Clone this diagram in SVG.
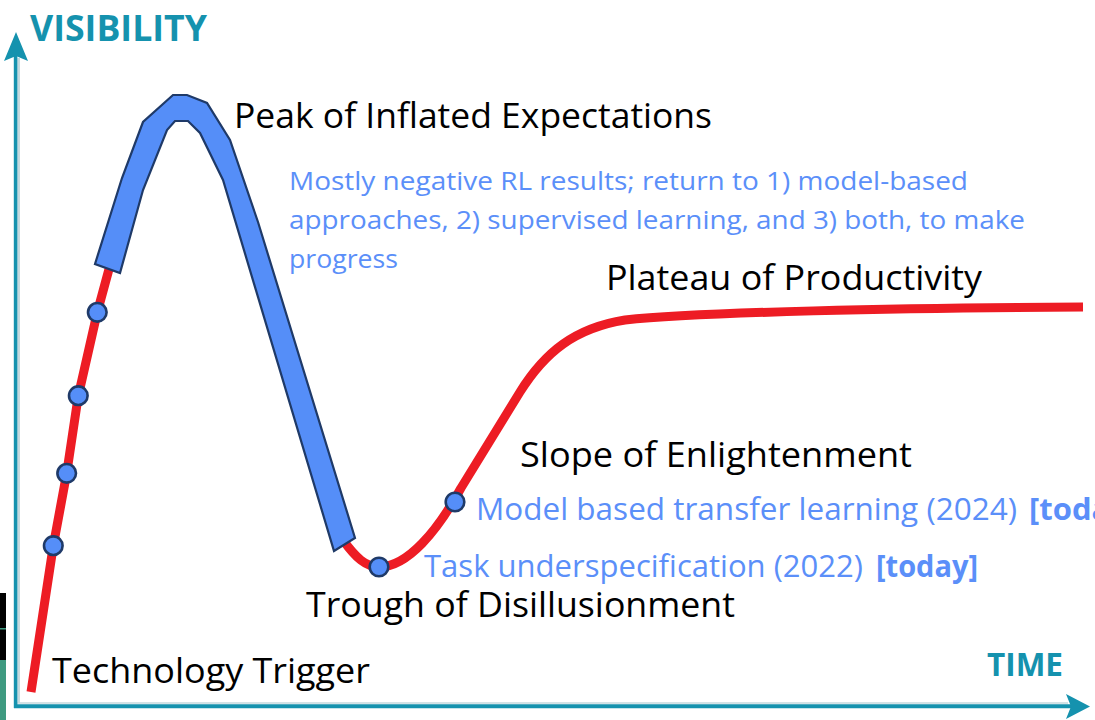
<svg xmlns="http://www.w3.org/2000/svg" width="1095" height="720" viewBox="0 0 1095 720">
  <style>
    .axis { stroke: #1592ae; fill: none; }
    .axis-edge { stroke: #c3d8de; fill: none; }
    .axis-head { fill: #1592ae; }
    .axis-label { font-family: "Open Sans", "Liberation Sans", sans-serif; font-weight: bold; fill: #1592ae; }
    .curve { stroke: #ed1c24; stroke-width: 9; fill: none; stroke-linejoin: round; }
    .band { fill: #558ef8; stroke: #1f3a68; stroke-width: 2.2; stroke-linejoin: miter; }
    .dot { fill: #558ef8; stroke: #1f3a68; stroke-width: 2.6; }
    .phase { font-family: "Open Sans", "Liberation Sans", sans-serif; font-size: 35px; fill: #000; }
    .note { font-family: "Open Sans", "Liberation Sans", sans-serif; fill: #5b8ff9; }
  </style>

  <rect width="1095" height="720" fill="#ffffff"/>

  <!-- strip at the left edge -->
  <rect x="0" y="593" width="6" height="67" fill="#000"/>
  <rect x="0" y="628" width="6" height="1.5" fill="#3e9a80"/>
  <rect x="0" y="660" width="6" height="60" fill="#3e9a80"/>

  <!-- axes -->
  <g id="axes">
    <line class="axis-edge" x1="18.7" y1="58" x2="18.7" y2="703" stroke-width="2.5"/>
    <line class="axis-edge" x1="17" y1="703" x2="1068" y2="703" stroke-width="1.5"/>
    <line class="axis" x1="15.6" y1="56" x2="15.6" y2="708" stroke-width="3.6"/>
    <line class="axis" x1="14" y1="706.2" x2="1072" y2="706.2" stroke-width="4"/>
    <polygon class="axis-head" points="16,32 28,61 16,56 4,61"/>
    <polygon class="axis-head" points="1090,706.5 1066,694 1071,706.5 1066,719"/>
    <text class="axis-label" x="30" y="40.5" font-size="35" textLength="177" lengthAdjust="spacingAndGlyphs">VISIBILITY</text>
    <text class="axis-label" x="987" y="676" font-size="32" textLength="76" lengthAdjust="spacingAndGlyphs">TIME</text>
  </g>

  <!-- hype curve -->
  <g id="connectors">
    <path class="curve" d="M31,692 L53.3,545.7 L66.7,473.3 L78.3,395.7 L97.3,312.3 L112,258"/>
    <path class="curve" d="M343,540 C356,558 366,567 379,567 C408,567 438,530 461,488 L520,392 C545,352 575,328 625,320 C700,312 900,308 1083,307"/>
  </g>

  <!-- peak band -->
  <g id="peak-band">
    <polygon class="band" points="95,264 122,178 143,122 173,95 187,95 207,103 230,140 258,222 355,538 334,551 223,180 200,133 188,121 175,121 167,130 143,190 120,273"/>
  </g>

  <!-- markers along the curve -->
  <g id="markers">
    <circle class="dot" cx="53.3" cy="545.7" r="9.3"/>
    <circle class="dot" cx="66.7" cy="473.3" r="9.3"/>
    <circle class="dot" cx="78.3" cy="395.7" r="9.3"/>
    <circle class="dot" cx="97.3" cy="312.3" r="9.3"/>
    <circle class="dot" cx="379" cy="567" r="9.3"/>
    <circle class="dot" cx="455" cy="502" r="9.3"/>
  </g>

  <!-- phase labels -->
  <g id="phase-peak">
    <text class="phase" x="234" y="128" textLength="478" lengthAdjust="spacingAndGlyphs">Peak of Inflated Expectations</text>
  </g>
  <g id="phase-plateau">
    <text class="phase" x="606" y="290" textLength="376" lengthAdjust="spacingAndGlyphs">Plateau of Productivity</text>
  </g>
  <g id="phase-slope">
    <text class="phase" x="520" y="467" textLength="392" lengthAdjust="spacingAndGlyphs">Slope of Enlightenment</text>
  </g>
  <g id="phase-trough">
    <text class="phase" x="306" y="617" textLength="429" lengthAdjust="spacingAndGlyphs">Trough of Disillusionment</text>
  </g>
  <g id="phase-trigger">
    <text class="phase" x="52" y="683" textLength="318" lengthAdjust="spacingAndGlyphs">Technology Trigger</text>
  </g>

  <!-- annotations -->
  <g id="note-peak" class="note" font-size="26">
    <text x="289" y="190" textLength="679" lengthAdjust="spacingAndGlyphs">Mostly negative RL results; return to 1) model-based</text>
    <text x="289" y="229" textLength="736" lengthAdjust="spacingAndGlyphs">approaches, 2) supervised learning, and 3) both, to make</text>
    <text x="289" y="268" textLength="109" lengthAdjust="spacingAndGlyphs">progress</text>
  </g>
  <g id="note-slope" class="note" font-size="31">
    <text x="476" y="520" textLength="541" lengthAdjust="spacingAndGlyphs">Model based transfer learning (2024)</text>
    <text x="1029" y="520" font-weight="bold">[today]</text>
  </g>
  <g id="note-trough" class="note" font-size="31">
    <text x="424" y="577" textLength="439" lengthAdjust="spacingAndGlyphs">Task underspecification (2022)</text>
    <text x="876" y="577" font-weight="bold" textLength="102" lengthAdjust="spacingAndGlyphs">[today]</text>
  </g>
</svg>
